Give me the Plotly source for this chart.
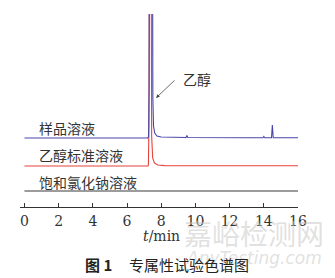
import plotly.graph_objects as go

# ---- data ----
t_sample = [0, 7.20, 7.26, 7.29, 7.31, 7.48, 7.51, 7.55, 7.62, 7.75, 8.0, 9.0,
            9.45, 9.50, 9.55, 13.0, 13.95, 14.0, 14.05, 14.45, 14.50, 14.55, 16]
y_sample = [0, 0, 1, 50, 300, 300, 40, 12, 5, 2, 1, 0.5,
            0.5, 2.5, 0.5, 0.3, 0.3, 1.5, 0.3, 0.3, 13, 0.3, 0.3]

t_std = [0, 7.22, 7.25, 7.28, 7.33, 7.40, 7.44, 7.50, 7.60, 7.80, 8.2, 13.0, 13.05, 13.1, 16]
y_std = [0, 0, 1, 40, 300, 300, 30, 8, 3, 1, 0.4, 0.3, 1.0, 0.3, 0.3]

t_blank = [0, 16]
y_blank = [0, 0]

x_ticks = [0, 2, 4, 6, 8, 10, 12, 14, 16]
labels = ["样品溶液", "乙醇标准溶液", "饱和氯化钠溶液"]

# ---- layout constants ----
W, H = 335, 278
ML, MR, MT, MB = 20, 37, 14, 71
PW, PH = W - ML - MR, H - MT - MB
off_sample, off_std, off_blank = 69, 41, 16


def px(p):  # figure pixel x -> paper x
    return (p - ML) / PW


def py(p):  # figure pixel y -> paper y
    return (H - MB - p) / PH


fig = go.Figure()
fig.add_trace(go.Scatter(x=t_blank, y=[v + off_blank for v in y_blank], mode="lines",
                         line=dict(color="#3a3a3a", width=1.1), hoverinfo="skip"))
fig.add_trace(go.Scatter(x=t_std, y=[v + off_std for v in y_std], mode="lines",
                         line=dict(color="#e8423c", width=1.1), hoverinfo="skip"))
fig.add_trace(go.Scatter(x=t_sample, y=[v + off_sample for v in y_sample], mode="lines",
                         line=dict(color="#4747a8", width=1.1), hoverinfo="skip"))

cjk = "Noto Sans CJK SC"
serif = "DejaVu Serif"
txtc = "#333333"

for lab, p in zip(labels, [128, 155, 182]):
    fig.add_annotation(x=px(37), y=py(p), xref="paper", yref="paper", text=lab, showarrow=False,
                       xanchor="left", yanchor="middle", font=dict(family=cjk, size=14, color=txtc))

# arrow to ethanol peak
fig.add_annotation(x=px(156), y=py(98), xref="paper", yref="paper", text="", showarrow=True,
                   ax=20, ay=-19, axref="pixel", ayref="pixel",
                   arrowhead=2, arrowsize=0.9, arrowwidth=0.8, arrowcolor="#444444")
fig.add_annotation(x=px(181), y=py(79), xref="paper", yref="paper", text="乙醇", showarrow=False,
                   xanchor="left", yanchor="middle", font=dict(family=cjk, size=14, color=txtc))

# axis title
fig.add_annotation(x=px(161), y=py(236), xref="paper", yref="paper", text="<i>t</i>/min",
                   showarrow=False, xanchor="center", yanchor="middle",
                   font=dict(family=serif, size=14, color=txtc))
# watermark
fig.add_annotation(x=px(254), y=py(233), xref="paper", yref="paper", text="嘉峪检测网",
                   showarrow=False, xanchor="center", yanchor="middle",
                   font=dict(family=cjk, size=28, color="rgba(200,200,200,0.55)"))
fig.add_annotation(x=px(254), y=py(258), xref="paper", yref="paper",
                   text="<i>AnyTesting.com</i>", showarrow=False, xanchor="center", yanchor="middle",
                   font=dict(family="DejaVu Sans", size=17, color="rgba(200,200,200,0.55)"))
# caption
fig.add_annotation(x=px(167), y=py(264), xref="paper", yref="paper",
                   text="<b>图 1</b>     专属性试验色谱图", showarrow=False,
                   xanchor="center", yanchor="middle", font=dict(family=cjk, size=15, color="#222222"))

fig.update_layout(
    width=W, height=H, margin=dict(l=ML, r=MR, t=MT, b=MB, autoexpand=False),
    paper_bgcolor="white", plot_bgcolor="white", showlegend=False,
    xaxis=dict(range=[-0.26, 16], autorange=False, tickvals=x_ticks, ticks="inside", ticklen=4,
               tickwidth=1, tickcolor="#333333", showline=True, linecolor="#333333", linewidth=1,
               showgrid=False, zeroline=False, automargin=False, ticklabelstandoff=1,
               tickfont=dict(family=serif, size=14, color=txtc)),
    yaxis=dict(range=[0, PH], autorange=False, visible=False, showgrid=False, zeroline=False,
               automargin=False),
)

fig.write_html("out.html")
